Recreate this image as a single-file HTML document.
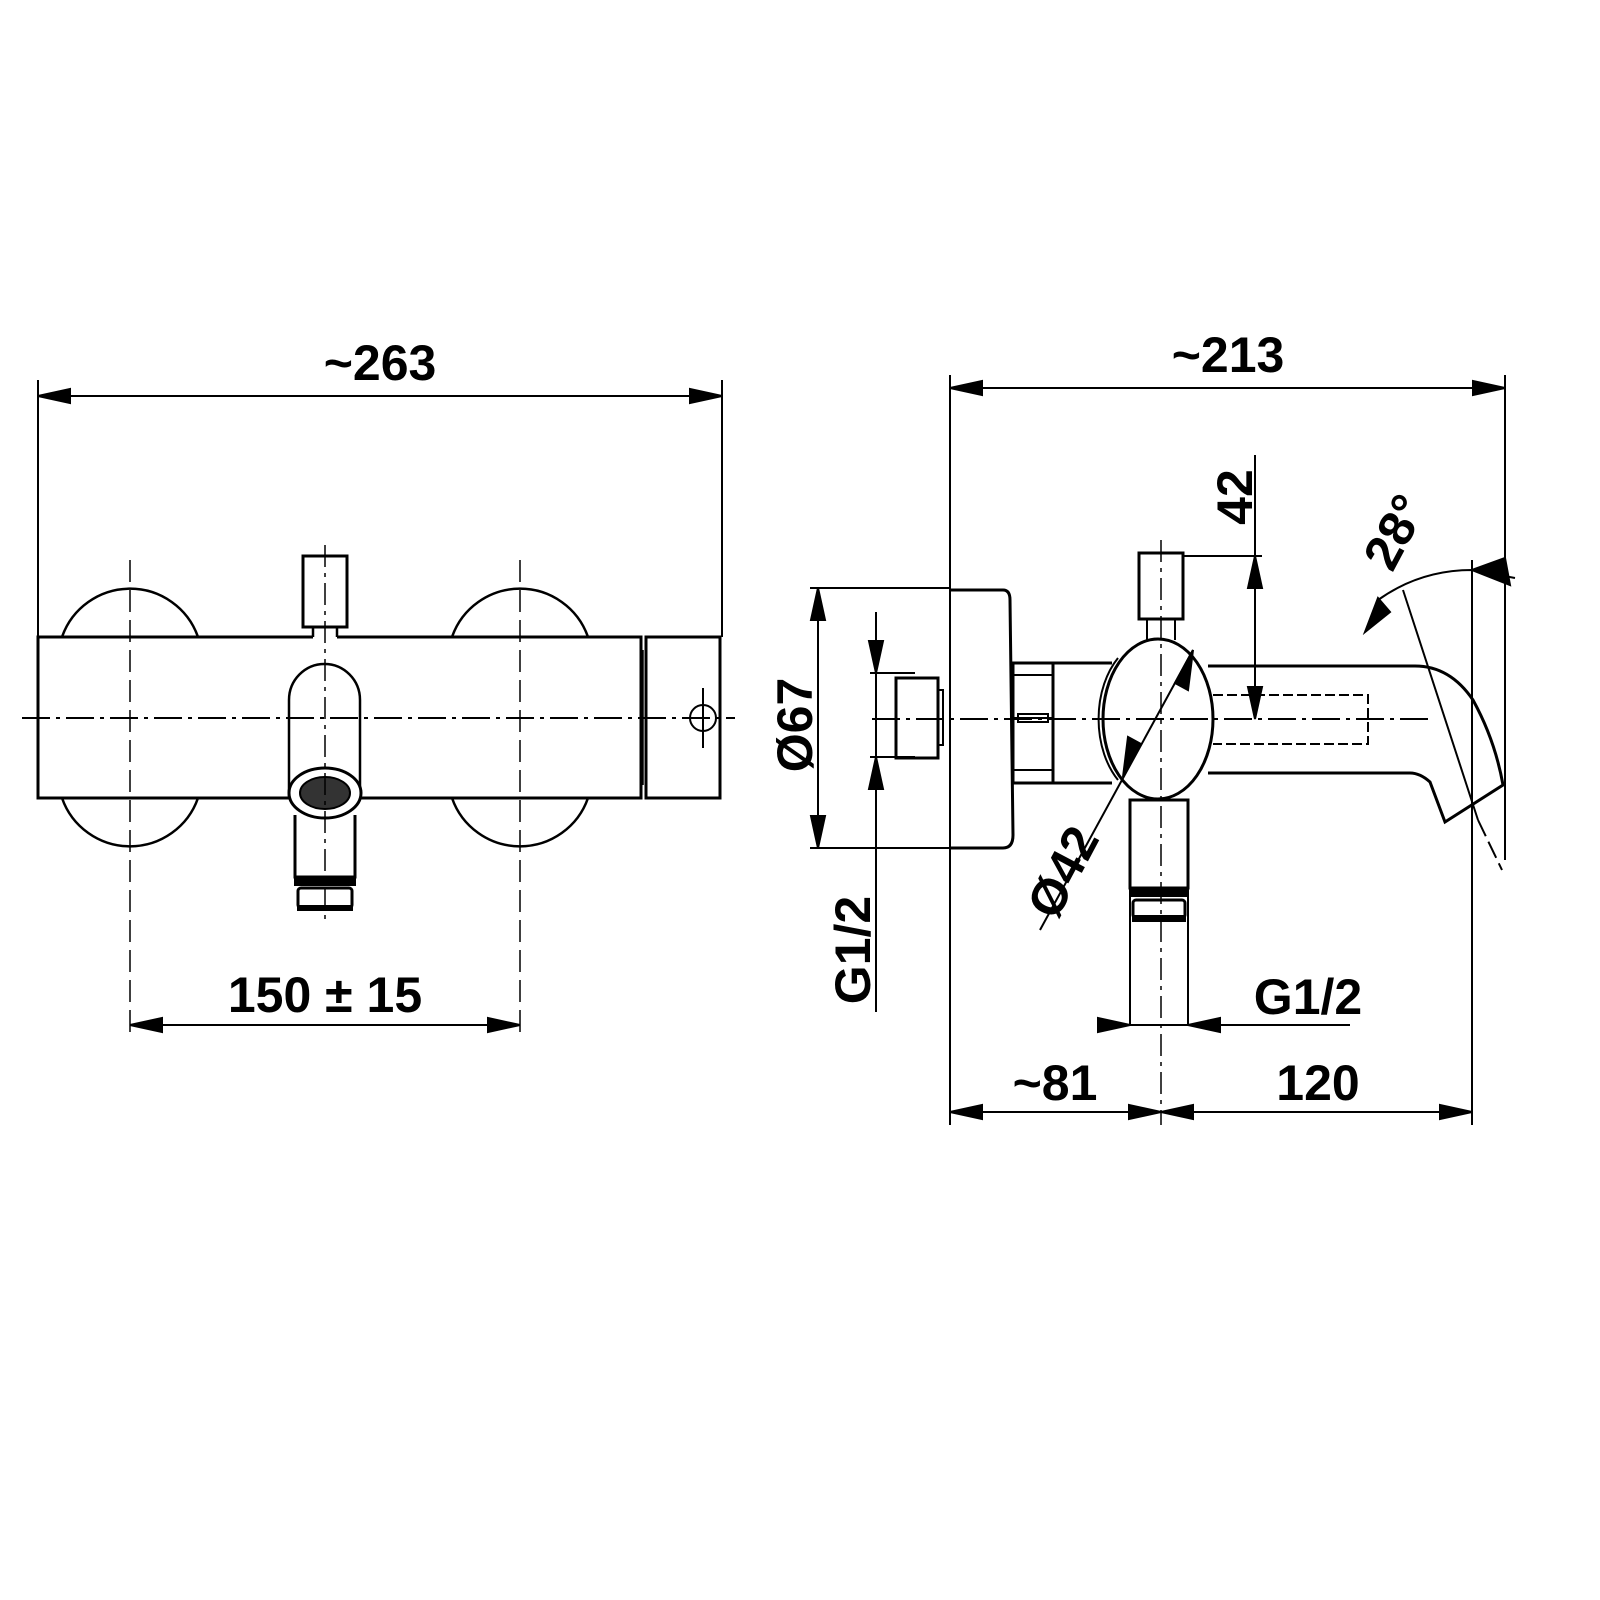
<!DOCTYPE html>
<html><head><style>html,body{margin:0;padding:0;background:#fff}svg{display:block}
text{font-family:"Liberation Sans",sans-serif;font-weight:bold;font-size:50px;fill:#000}</style></head>
<body>
<svg width="1600" height="1600" viewBox="0 0 1600 1600" xmlns="http://www.w3.org/2000/svg">
<g stroke="#000" fill="none" stroke-width="2">
<!-- LEFT VIEW -->
<line x1="38" y1="380" x2="38" y2="637"/><line x1="722" y1="380" x2="722" y2="637"/>
<line x1="38" y1="396" x2="722" y2="396"/>
<path d="M38,396L70,389L70,403Z M722,396L690,389L690,403Z" fill="#000"/>
<!-- escutcheons -->
<path d="M62,637 A72,72 0 0 1 198,637" stroke-width="2.5"/>
<path d="M62,798 A72,72 0 0 0 198,798" stroke-width="2.5"/>
<path d="M452,637 A72,72 0 0 1 588,637" stroke-width="2.5"/>
<path d="M452,798 A72,72 0 0 0 588,798" stroke-width="2.5"/>
<!-- body -->
<path d="M313,637 H38 V798 H641 V637 H337" stroke-width="3"/>
<rect x="646" y="637" width="74" height="161" stroke-width="3"/>
<line x1="643" y1="650" x2="643" y2="785" stroke-width="1.5"/>
<!-- knob -->
<rect x="303" y="556" width="44" height="71" stroke-width="3"/>
<path d="M313,627 V637 M337,627 V637" stroke-width="2.5"/>
<!-- spout -->
<path d="M289,798 V700 A35.5,36 0 0 1 360,700 V798" stroke-width="2.5" fill="#fff"/>
<ellipse cx="325" cy="793" rx="36" ry="25" fill="#fff" stroke-width="3"/>
<ellipse cx="325" cy="793" rx="25" ry="16" fill="#333" stroke-width="2"/>
<path d="M295,815 V877 H355 V815" stroke-width="3"/>
<rect x="295" y="877" width="60" height="8" fill="#000"/>
<rect x="298" y="888" width="54" height="20" rx="3" stroke-width="3"/>
<rect x="298" y="906" width="54" height="4" fill="#000"/>
<!-- end cap hole -->
<circle cx="703" cy="718" r="13"/>
<line x1="703" y1="688" x2="703" y2="748"/>
<!-- centerlines -->
<line x1="22" y1="718" x2="735" y2="718" stroke-dasharray="28,6,4,6" stroke-width="2"/>
<line x1="130" y1="560" x2="130" y2="1040" stroke-dasharray="22,8" stroke-width="1.5"/>
<line x1="520" y1="560" x2="520" y2="1040" stroke-dasharray="22,8" stroke-width="1.5"/>
<line x1="325" y1="545" x2="325" y2="925" stroke-dasharray="22,6,4,6" stroke-width="1.5"/>
<!-- 150 dim -->
<line x1="130" y1="1025" x2="520" y2="1025"/>
<path d="M130,1025L162,1018L162,1032Z M520,1025L488,1018L488,1032Z" fill="#000"/>

<!-- RIGHT VIEW -->
<line x1="950" y1="375" x2="950" y2="1125"/>
<line x1="1505" y1="375" x2="1505" y2="860"/>
<line x1="950" y1="388" x2="1505" y2="388"/>
<path d="M950,388L982,381L982,395Z M1505,388L1473,381L1473,395Z" fill="#000"/>
<path d="M950,590 H1003 Q1010,590 1010,600 L1013,835 Q1013,848 1003,848 H950" stroke-width="3"/>
<line x1="810" y1="588" x2="950" y2="588"/><line x1="810" y1="848" x2="950" y2="848"/>
<line x1="818" y1="588" x2="818" y2="848"/>
<path d="M818,588L811,620L825,620Z M818,848L811,816L825,816Z" fill="#000"/>
<line x1="870" y1="673" x2="915" y2="673"/><line x1="870" y1="757" x2="915" y2="757"/>
<line x1="876" y1="612" x2="876" y2="1012"/>
<path d="M876,673L869,641L883,641Z M876,757L869,789L883,789Z" fill="#000"/>
<rect x="896" y="678" width="42" height="80" stroke-width="3"/>
<rect x="938" y="690" width="5" height="55" stroke-width="2"/>
<rect x="1013" y="663" width="40" height="120" stroke-width="3"/>
<path d="M1013,675 H1053 M1013,770 H1053 M1013,718 H1053" stroke-width="2"/>
<rect x="1018" y="714" width="30" height="8" stroke-width="2"/>
<path d="M1053,663 H1112 M1053,783 H1112" stroke-width="3"/>
<ellipse cx="1158" cy="719" rx="55" ry="80" fill="#fff" stroke-width="3"/>
<path d="M1118,658 A55,80 0 0 0 1118,780" stroke-width="2"/>
<rect x="1139" y="553" width="44" height="66" stroke-width="3"/>
<path d="M1147,619 V640 M1175,619 V640" stroke-width="2"/>
<path d="M1130,800 H1188 V888 H1130 Z" stroke-width="3"/>
<rect x="1130" y="888" width="58" height="8" fill="#000"/>
<rect x="1133" y="900" width="52" height="18" rx="3" stroke-width="3"/>
<rect x="1133" y="916" width="52" height="5" fill="#000"/>
<path d="M1208,666 H1415 Q1450,666 1473,700 Q1495,740 1503,785 L1445,822 L1430,782 Q1420,773 1410,773 H1208" stroke-width="3"/>
<path d="M1213,695 H1368 V744 H1213" stroke-dasharray="10,4" stroke-width="2"/>
<line x1="872" y1="719" x2="1430" y2="719" stroke-dasharray="28,6,4,6" stroke-width="2"/>
<line x1="1161" y1="540" x2="1161" y2="1125" stroke-dasharray="22,6,4,6" stroke-width="1.5"/>
<line x1="1183" y1="556" x2="1262" y2="556"/>
<line x1="1255" y1="455" x2="1255" y2="719"/>
<path d="M1255,556L1248,588L1262,588Z M1255,719L1248,687L1262,687Z" fill="#000"/>
<line x1="1193" y1="650" x2="1040" y2="930"/>
<path d="M1193,650L1175,683L1188,690Z M1123,777L1141,744L1128,737Z" fill="#000"/>
<line x1="1472" y1="560" x2="1472" y2="1125"/>
<path d="M1378,600 Q1420,570 1472,570 L1515,578" stroke-width="2"/>
<path d="M1472,570L1505,558L1510,585Z M1378,598L1365,632L1390,612Z" fill="#000"/>
<line x1="1403" y1="590" x2="1478" y2="820"/>
<line x1="1478" y1="820" x2="1502" y2="870" stroke-dasharray="18,6"/>
<line x1="1130" y1="896" x2="1130" y2="1025"/><line x1="1188" y1="896" x2="1188" y2="1025"/>
<line x1="1098" y1="1025" x2="1350" y2="1025"/>
<path d="M1130,1025L1098,1018L1098,1032Z M1188,1025L1220,1018L1220,1032Z" fill="#000"/>
<line x1="950" y1="1112" x2="1472" y2="1112"/>
<path d="M950,1112L982,1105L982,1119Z M1161,1112L1129,1105L1129,1119Z M1161,1112L1193,1105L1193,1119Z M1472,1112L1440,1105L1440,1119Z" fill="#000"/>
</g>
<text x="380" y="380" text-anchor="middle">~263</text>
<text x="325" y="1012" text-anchor="middle">150 ± 15</text>
<text x="1228" y="372" text-anchor="middle">~213</text>
<text x="1055" y="1100" text-anchor="middle">~81</text>
<text x="1318" y="1100" text-anchor="middle">120</text>
<text x="1308" y="1014" text-anchor="middle">G1/2</text>
<text transform="translate(812,725) rotate(-90)" text-anchor="middle">Ø67</text>
<text transform="translate(870,950) rotate(-90)" text-anchor="middle">G1/2</text>
<text transform="translate(1252,497) rotate(-90)" text-anchor="middle">42</text>
<text transform="translate(1078,880) rotate(-62)" text-anchor="middle">Ø42</text>
<text transform="translate(1410,540) rotate(-62)" text-anchor="middle">28°</text>
</svg>
</body></html>
